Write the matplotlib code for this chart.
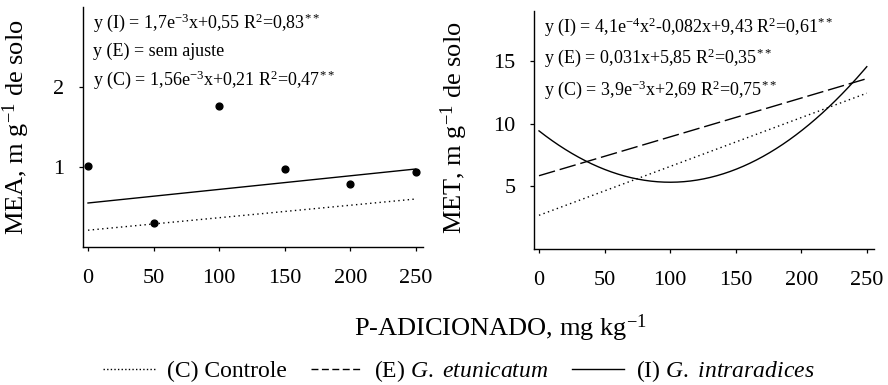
import matplotlib
matplotlib.use("Agg")
import matplotlib.pyplot as plt
from matplotlib.lines import Line2D
import numpy as np

plt.rcParams["font.family"] = ["Liberation Serif", "DejaVu Serif"]
plt.rcParams["mathtext.fontset"] = "custom"
plt.rcParams["mathtext.rm"] = "Liberation Serif"
plt.rcParams["mathtext.it"] = "Liberation Serif:italic"
plt.rcParams["mathtext.bf"] = "Liberation Serif:bold"

# ── dados ─────────────────────────────────────────────
dose = [0, 50, 100, 150, 200, 250]
mea_obs = [1.01, 0.30, 1.76, 0.97, 0.79, 0.94]

# MEA: coeficientes (intercepto, inclinação)
mea_I = (0.55, 1.7e-3)
mea_C = (0.21, 1.56e-3)

# MET
met_I = (9.43, -0.082, 4.1e-4)   # quadrática
met_E = (5.85, 0.031)
met_C = (2.69, 0.039)

mea_txt = [
    r"y (I) = 1,7e$^{-3}$x+0,55 R$^2$=0,83$^{**}$",
    r"y (E) = sem ajuste",
    r"y (C) = 1,56e$^{-3}$x+0,21 R$^2$=0,47$^{**}$",
]
met_txt = [
    r"y (I) = 4,1e$^{-4}$x$^2$-0,082x+9,43 R$^2$=0,61$^{**}$",
    r"y (E) = 0,031x+5,85 R$^2$=0,35$^{**}$",
    r"y (C) = 3,9e$^{-3}$x+2,69 R$^2$=0,75$^{**}$",
]

W, H = 888, 385
fig = plt.figure(figsize=(W / 100, H / 100), dpi=100)

def px_axes(l, t, r, b):
    return fig.add_axes([l / W, 1 - b / H, (r - l) / W, (b - t) / H])

ax1 = px_axes(82.5, 7, 423, 247)
ax2 = px_axes(533.5, 11, 874, 249)

xs = np.linspace(0, 250, 200)
TICK_FS = 16
EQ_FS = 13
DOT = (0, (1, 2.4))

for ax in (ax1, ax2):
    ax.spines[["top", "right"]].set_visible(False)
    ax.spines[["left", "bottom"]].set_linewidth(1.0)
    ax.set_xlim(-4.2, 255.5)
    ax.set_xticks(dose)
    ax.tick_params(direction="out", length=3, width=0.9, labelsize=TICK_FS)
    ax.tick_params(axis="x", pad=13)
    ax.tick_params(axis="y", pad=10)

# ── painel MEA ─────────────────────────────────────────
ax1.plot(xs, mea_I[0] + mea_I[1] * xs, color="black", lw=1.0)
ax1.plot(xs, mea_C[0] + mea_C[1] * xs, color="black", lw=1.0, ls=DOT)
ax1.scatter(dose, mea_obs, s=24, color="black", zorder=3, clip_on=False)
ax1.set_ylim(0, 3)
ax1.set_yticks([1, 2])
ax1.set_ylabel(r"MEA, m g$^{-1}$ de solo", fontsize=19)
ax1.yaxis.set_label_coords(-0.148, 0.5)
for i, t in enumerate(mea_txt):
    ax1.text(0.03, 0.935 - i * 0.118, t, transform=ax1.transAxes,
             fontsize=EQ_FS, va="center", ha="left")

# ── painel MET ─────────────────────────────────────────
ax2.plot(xs, met_I[0] + met_I[1] * xs + met_I[2] * xs ** 2, color="black", lw=1.0)
ax2.plot(xs, met_E[0] + met_E[1] * xs, color="black", lw=1.0, ls=(0, (12, 3.5)))
ax2.plot(xs, met_C[0] + met_C[1] * xs, color="black", lw=1.0, ls=DOT)
ax2.set_ylim(0, 19)
ax2.set_yticks([5, 10, 15])
ax2.set_ylabel(r"MET, m g$^{-1}$ de solo", fontsize=19)
ax2.yaxis.set_label_coords(-0.186, 0.508)
for i, t in enumerate(met_txt):
    ax2.text(0.03, 0.935 - i * 0.133, t, transform=ax2.transAxes,
             fontsize=EQ_FS, va="center", ha="left")

fig.text(500 / W, 1 - 328 / H, r"P-ADICIONADO, mg kg$^{-1}$",
         fontsize=19, ha="center", va="center")

handles = [
    Line2D([], [], color="black", lw=1.0, ls=(0, (1, 1.6))),
    Line2D([], [], color="black", lw=1.0, ls=(0, (5, 2.5))),
    Line2D([], [], color="black", lw=1.0),
]
labels = [
    "(C) Controle",
    r"(E) $\mathit{G.}$ $\mathit{etunicatum}$",
    r"(I) $\mathit{G.}$ $\mathit{intraradices}$",
]
fig.legend(handles, labels, loc="center", bbox_to_anchor=(459 / W, 1 - 371 / H),
           ncol=3, frameon=False, fontsize=17, handlelength=2.2,
           handletextpad=0.5, columnspacing=1.0, borderaxespad=0)

fig.savefig("out.png", dpi=100)
